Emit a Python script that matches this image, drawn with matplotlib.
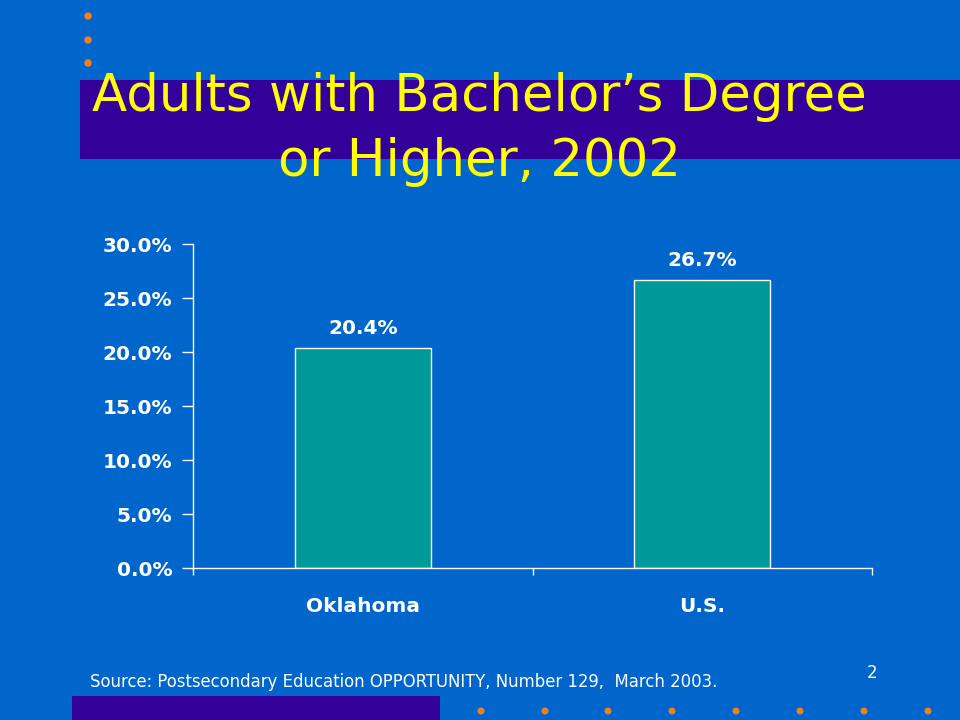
import matplotlib
matplotlib.use("Agg")
import matplotlib.pyplot as plt
from matplotlib.patches import Rectangle, Ellipse

categories = ["Oklahoma", "U.S."]
values = [20.4, 26.7]
y_ticks = [0, 5, 10, 15, 20, 25, 30]
title_lines = ["Adults with Bachelor\u2019s Degree", "or Higher, 2002"]
source_text = "Source: Postsecondary Education OPPORTUNITY, Number 129,  March 2003."
page_number = "2"

BG = "#0066CC"
PURPLE = "#330099"
TEAL = "#009999"
YELLOW = "#FFFF00"
ORANGE = "#F07F1E"
W, H = 960, 720

fig = plt.figure(figsize=(9.6, 7.2), dpi=100, facecolor=BG)

def fx(px):
    return px / W

def fy(py):
    return 1 - py / H

# decorative bands
fig.patches.append(Rectangle((fx(80), fy(159)), fx(880), 79 / H, transform=fig.transFigure,
                             facecolor=PURPLE, edgecolor="none", zorder=0))
fig.patches.append(Rectangle((fx(72), fy(720)), fx(368), 24 / H, transform=fig.transFigure,
                             facecolor=PURPLE, edgecolor="none", zorder=0))
# decorative dots
for yy in [16, 40, 63]:
    fig.patches.append(Ellipse((fx(88), fy(yy)), 7.5 / W, 7.5 / H, transform=fig.transFigure,
                               facecolor=ORANGE, edgecolor="none", zorder=1))
for xx in [481, 545, 608, 672, 736, 800, 864, 928]:
    fig.patches.append(Ellipse((fx(xx), fy(711)), 7 / W, 7 / H, transform=fig.transFigure,
                               facecolor=ORANGE, edgecolor="none", zorder=1))

# title
fig.text(fx(479), fy(111), title_lines[0], ha="center", va="baseline",
         fontsize=37, color=YELLOW, family="DejaVu Sans", zorder=3)
fig.text(fx(479), fy(176), title_lines[1], ha="center", va="baseline",
         fontsize=37, color=YELLOW, family="DejaVu Sans", zorder=3)

# axes
ax = fig.add_axes([fx(193), fy(568), 679 / W, 324 / H])
ax.set_facecolor("none")
x = list(range(len(categories)))
bars = ax.bar(x, values, width=0.4, color=TEAL, edgecolor="white", linewidth=1, zorder=2)
ax.set_xlim(-0.5, len(categories) - 0.5)
ax.set_ylim(0, 30)
ax.set_yticks(y_ticks)
ax.set_yticklabels([f"{t:.1f}%" for t in y_ticks])
ax.set_xticks([i - 0.5 for i in range(len(categories) + 1)])
ax.set_xticklabels([])
ax.set_xticks(x, minor=True)
ax.set_xticklabels(categories, minor=True)
for s in ["top", "right"]:
    ax.spines[s].set_visible(False)
for s in ["left", "bottom"]:
    ax.spines[s].set_color("white")
    ax.spines[s].set_linewidth(1)
ax.tick_params(axis="y", which="major", colors="white", length=8, width=1, pad=7,
               labelsize=14.5)
ax.tick_params(axis="x", which="major", colors="white", length=5, width=1, direction="out")
ax.tick_params(axis="x", which="minor", length=0, pad=21, labelsize=14.5, labelcolor="white")
for lab in ax.get_yticklabels() + ax.get_xticklabels(minor=True):
    lab.set_fontweight("bold")
    lab.set_family("DejaVu Sans")

for b, v in zip(bars, values):
    ax.annotate(f"{v:.1f}%", (b.get_x() + b.get_width() / 2, v), xytext=(0, 9.5),
                textcoords="offset points", ha="center", va="baseline",
                color="white", fontsize=14.5, fontweight="bold")

fig.text(fx(90), fy(687), source_text, ha="left", va="baseline", fontsize=11.9,
         color="white", family="DejaVu Sans")
fig.text(fx(872), fy(673), page_number, ha="center", va="center", fontsize=12,
         color="white", family="DejaVu Sans")

fig.savefig("out.png", dpi=100, facecolor=BG)
